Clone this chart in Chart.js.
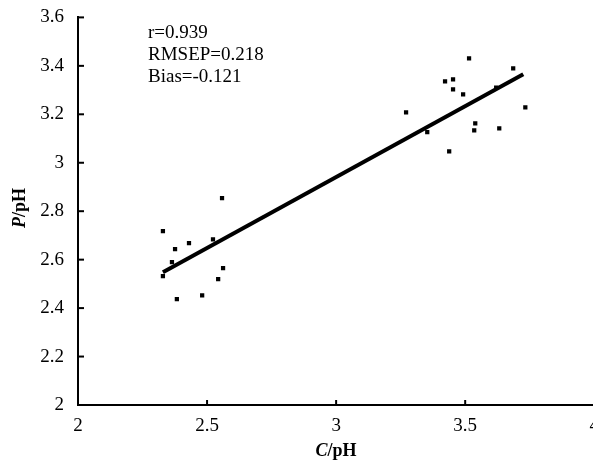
<!DOCTYPE html>
<html>
<head>
<meta charset="utf-8">
<script src="https://cdn.jsdelivr.net/npm/chart.js@4.4.1/dist/chart.umd.min.js"></script>
<style>
  html, body { margin: 0; padding: 0; background: #fff; overflow: hidden; }
  #wrap { width: 601px; height: 460px; }
</style>
</head>
<body>
<div id="wrap"><canvas id="scatterChart" width="601" height="460"></canvas></div>
<script>
// measured C/pH vs predicted P/pH
const measuredPH = [2.329, 2.329, 2.364, 2.376, 2.383, 2.430, 2.481, 2.523, 2.543, 2.558, 2.562,
                    3.271, 3.353, 3.438, 3.422, 3.453, 3.453, 3.492, 3.515, 3.535, 3.539, 3.632, 3.620, 3.686, 3.733];
const predictedPH = [2.718, 2.532, 2.590, 2.643, 2.437, 2.668, 2.453, 2.684, 2.520, 2.854, 2.565,
                     3.208, 3.126, 3.047, 3.336, 3.344, 3.303, 3.282, 3.431, 3.134, 3.163, 3.142, 3.310, 3.390, 3.229];
const fitLineX = [2.329, 3.725];
const fitLineY = [2.548, 3.365];
const xTicks = [2, 2.5, 3, 3.5, 4];
const yTicks = [2, 2.2, 2.4, 2.6, 2.8, 3, 3.2, 3.4, 3.6];
const statLines = ['r=0.939', 'RMSEP=0.218', 'Bias=-0.121'];

const SERIF = '"Liberation Serif", "DejaVu Serif", serif';

// inner tick marks, stats text and axis titles
const decorPlugin = {
    id: 'decor',
    afterDraw(chart) {
        const { ctx, chartArea, scales } = chart;
        ctx.save();
        ctx.strokeStyle = '#000';
        ctx.lineWidth = 2;
        xTicks.forEach(v => {
            const px = scales.x.getPixelForValue(v);
            ctx.beginPath();
            ctx.moveTo(px, chartArea.bottom);
            ctx.lineTo(px, chartArea.bottom - 5);
            ctx.stroke();
        });
        yTicks.forEach(v => {
            const py = scales.y.getPixelForValue(v);
            ctx.beginPath();
            ctx.moveTo(chartArea.left, py);
            ctx.lineTo(chartArea.left + 6, py);
            ctx.stroke();
        });

        ctx.fillStyle = '#000';
        ctx.font = '19px ' + SERIF;
        ctx.textAlign = 'left';
        ctx.textBaseline = 'middle';
        statLines.forEach((t, i) => ctx.fillText(t, chartArea.left + 70, chartArea.top + 16 + i * 22));

        // x title: italic C + /pH
        const xc = 336, yc = 451;
        ctx.font = 'bold italic 18px ' + SERIF;
        const wC = ctx.measureText('C').width;
        ctx.font = 'bold 18px ' + SERIF;
        const wR = ctx.measureText('/pH').width;
        let x0 = xc - (wC + wR) / 2;
        ctx.font = 'bold italic 18px ' + SERIF;
        ctx.fillText('C', x0, yc);
        ctx.font = 'bold 18px ' + SERIF;
        ctx.fillText('/pH', x0 + wC, yc);

        // y title rotated
        ctx.translate(20, 208);
        ctx.rotate(-Math.PI / 2);
        ctx.font = 'bold italic 18px ' + SERIF;
        const wP = ctx.measureText('P').width;
        ctx.font = 'bold 18px ' + SERIF;
        const wR2 = ctx.measureText('/pH').width;
        x0 = -(wP + wR2) / 2;
        ctx.font = 'bold italic 18px ' + SERIF;
        ctx.fillText('P', x0, 0);
        ctx.font = 'bold 18px ' + SERIF;
        ctx.fillText('/pH', x0 + wP, 0);
        ctx.restore();
    }
};

const ctx = document.getElementById('scatterChart');
new Chart(ctx, {
    type: 'scatter',
    data: {
        datasets: [
            {
                label: 'samples',
                data: measuredPH.map((x, i) => ({ x: x, y: predictedPH[i] })),
                pointStyle: 'rect',
                pointRadius: 3,
                backgroundColor: '#000',
                borderColor: '#000',
                borderWidth: 0
            },
            {
                label: 'fit',
                type: 'line',
                data: fitLineX.map((x, i) => ({ x: x, y: fitLineY[i] })),
                borderColor: '#000',
                borderWidth: 4,
                pointRadius: 0,
                fill: false
            }
        ]
    },
    options: {
        responsive: false,
        animation: false,
        layout: { padding: { top: 17, left: 0, right: 0, bottom: 0 } },
        plugins: {
            legend: { display: false },
            tooltip: { enabled: false }
        },
        scales: {
            x: {
                type: 'linear',
                min: 2,
                max: 4,
                afterBuildTicks: s => { s.ticks = xTicks.map(v => ({ value: v })); },
                afterFit: s => { s.height = 55; },
                grid: { display: false },
                border: { display: true, color: '#000', width: 2 },
                ticks: {
                    color: '#000',
                    padding: 2,
                    maxRotation: 0,
                    font: { family: SERIF, size: 19 },
                    callback: v => String(v)
                }
            },
            y: {
                type: 'linear',
                min: 2,
                max: 3.6,
                afterBuildTicks: s => { s.ticks = yTicks.map(v => ({ value: v })); },
                afterFit: s => { s.width = 78; },
                grid: { display: false },
                border: { display: true, color: '#000', width: 2 },
                ticks: {
                    color: '#000',
                    padding: 6,
                    font: { family: SERIF, size: 19 },
                    callback: v => String(Math.round(v * 10) / 10)
                }
            }
        }
    },
    plugins: [decorPlugin]
});
</script>
</body>
</html>
